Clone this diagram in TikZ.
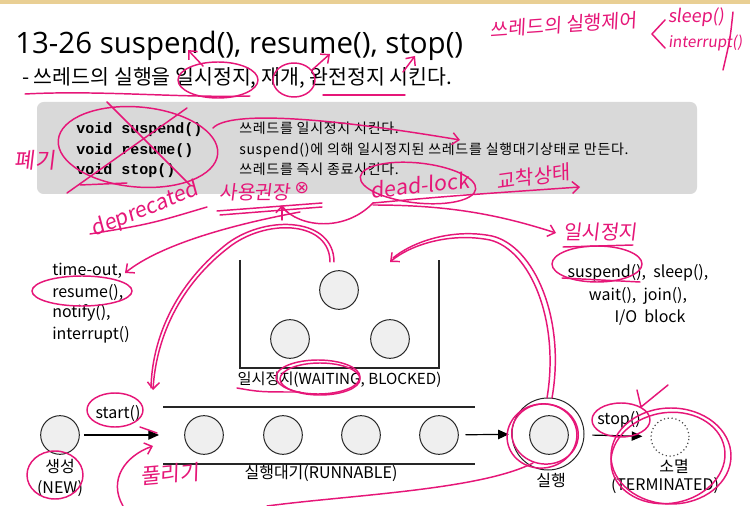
\documentclass[tikz,border=0pt]{standalone}
\usepackage{fontspec}
\usetikzlibrary{arrows.meta}
\newfontfamily\kr{Noto Sans CJK KR}
\newfontfamily\krwide[LetterSpace=5]{Noto Sans CJK KR}
\newfontfamily\hand[FakeSlant=0.12]{Noto Sans CJK KR}
\newfontfamily\ttlf{Open Sans}
\newfontfamily\monof{Liberation Mono}
\newfontfamily\djv{DejaVu Sans}
\definecolor{penc}{RGB}{230,22,120}
\definecolor{topband}{RGB}{233,207,148}
\definecolor{boxgray}{RGB}{217,217,217}
\definecolor{cfill}{RGB}{239,239,239}
\begin{document}
\begin{tikzpicture}[x=0.75pt,y=-0.75pt,
 st/.style={circle,draw=black!85,fill=cfill,line width=0.75pt,minimum size=29pt,inner sep=0pt},
 lbl/.style={font=\kr\fontsize{12}{14}\selectfont,inner sep=0pt},
 code/.style={font=\monof\bfseries\fontsize{11.25}{13}\selectfont,anchor=base west,inner sep=0pt},
 desc/.style={font=\krwide\fontsize{10.5}{12}\selectfont,anchor=base west,inner sep=0pt},
 arr/.style={-{Triangle[length=8pt,width=7pt]},line width=0.9pt},
 ink/.style={draw=penc,line width=1.1pt,line cap=round,line join=round},
 inkarr/.style={ink,-{Straight Barb[length=5pt,width=9pt]}},
 hw/.style={text=penc,font=\hand\fontsize{#1}{#1}\selectfont,inner sep=0pt},
 ]
\useasboundingbox (0,0) rectangle (750,506);
\fill[white] (0,0) rectangle (750,506);
\fill[topband] (0,0) rectangle (750,4);

% ---------- title ----------
\node[anchor=base west,inner sep=0pt,font=\ttlf\fontsize{22.1}{26}\selectfont] (title) at (15,53.5) {13-26 suspend(), resume(), stop()};
\node[anchor=base west,inner sep=0pt,font=\kr\fontsize{15.4}{18}\selectfont] (sub) at (22,85) {- 쓰레드의 실행을 일시정지, 재개, 완전정지 시킨다.};

% ---------- gray box ----------
\fill[boxgray,rounded corners=5pt] (37,102) rectangle (697,194);
\node[code] (c1) at (76,134) {void suspend()};
\node[code] (c2) at (76,155) {void resume()};
\node[code] (c3) at (76,175) {void stop()};
\node[desc] (d1) at (239,134) {쓰레드를 일시정지 시킨다.};
\node[desc] (d2) at (239,155) {suspend()에 의해 일시정지된 쓰레드를 실행대기상태로 만든다.};
\node[desc] (d3) at (239,175) {쓰레드를 즉시 종료시킨다.};

% ---------- left / right labels ----------
\node[lbl,anchor=base west] (l1) at (52,275) {time-out,};
\node[lbl,anchor=base west] (l2) at (52,297) {resume(),};
\node[lbl,anchor=base west] (l3) at (52,317) {notify(),};
\node[lbl,anchor=base west] (l4) at (52,339) {interrupt()};
\node[lbl,anchor=base] (s1) at (638,277) {suspend(),\ \ sleep(),};
\node[lbl,anchor=base] (s2) at (638,300) {wait(),\ \ join(),};
\node[lbl,anchor=base] (s3) at (650,322) {I/O\ \ block};

% ---------- waiting ----------
\draw[line width=0.95pt,black!85] (240,260) -- (240,368) -- (439,368) -- (439,260);
\node[st] (w1) at (339,290) {};
\node[st] (w2) at (290,339) {};
\node[st] (w3) at (390,339) {};
\node[lbl,anchor=base,font=\kr\fontsize{11.4}{14}\selectfont] (wl) at (339.5,384) {일시정지(WAITING, BLOCKED)};

% ---------- runnable ----------
\draw[line width=0.95pt,black!85] (163,407) -- (475,407);
\draw[line width=0.95pt,black!85] (163,464) -- (475,464);
\node[st] (r1) at (204,435) {};
\node[st] (r2) at (283,435) {};
\node[st] (r3) at (361,435) {};
\node[st] (r4) at (439,435) {};
\node[lbl,anchor=base] (rl) at (321,478) {실행대기(RUNNABLE)};

% ---------- new ----------
\node[st] (new) at (60,435) {};
\node[lbl,anchor=base] (nl1) at (60,472) {생성};
\node[lbl,anchor=base] (nl2) at (60,493) {(NEW)};
\node[lbl,anchor=base] (startl) at (118,418) {start()};
\coordinate (rin) at (159,435);
\draw[arr,shorten <=3pt] (new) -- (rin);

% ---------- running ----------
\node[circle,draw=black!85,line width=0.75pt,minimum size=54pt,inner sep=0pt] (runo) at (548,434) {};
\node[st] (run) at (549,435) {};
\node[lbl,anchor=base] (runl) at (551,486) {실행};
\draw[arr,shorten <=5pt,shorten >=2pt] (r4) -- (runo);

% ---------- terminated ----------
\node[circle,draw=black!70,dotted,line width=0.9pt,minimum size=28.5pt,inner sep=0pt] (term) at (670,437) {};
\node[lbl,anchor=base] (tl1) at (674,472) {소멸};
\node[lbl,anchor=base] (tl2) at (665,490) {(TERMINATED)};
\node[lbl,anchor=base] (stopl) at (619,424) {stop()};
\draw[arr,shorten <=6pt,shorten >=6pt] (runo) -- (term);

% =================== red annotations ===================
% title area
\draw[ink] (25,94) .. controls (100,90) and (180,98) .. (250,96);
\draw[ink] (218,80) ellipse [x radius=30pt, y radius=13.5pt];
\draw[inkarr] (203,66) -- (188,50);
\draw[ink] (294,80) ellipse [x radius=15.75pt, y radius=12.75pt];
\draw[inkarr] (312,70) .. controls (320,62) .. (330,54);
\draw[ink] (323,95) -- (405,95);
\draw[inkarr] (403,72) -- (415,56);

% top right note
\node[hw=14.5,anchor=west,rotate=4] (n1) at (490,30) {쓰레드의 실행제어};
\draw[ink] (665,20) -- (652,34) -- (665,48);
\node[hw=13.5,anchor=west] (n2) at (668,17) {sleep()};
\node[hw=11.5,anchor=west] (n3) at (668,43) {interrupt()};
\draw[ink] (733,12) .. controls (730,40) .. (723,70);

% code crossed out
\draw[ink,rotate around={-5:(138,147)}] (138,147) ellipse [x radius=60pt, y radius=30pt];
\draw[ink] (107,102) -- (190,185);
\draw[ink] (187,108) -- (67,193);
\draw[ink] (80,185) -- (127,183);
\node[hw=16.5] (n4) at (35,160) {폐기};
\node[hw=16,rotate=22] (n5) at (145,210) {deprecated};
\draw[ink] (90,234) .. controls (150,224) .. (207,207);

% not recommended
\node[hw=14.5,anchor=west] (n6) at (219,192) {사용권장};
\node[text=penc,font=\djv\fontsize{13}{13}\selectfont,inner sep=0pt] (n7) at (302,188) {⊗};
\draw[ink] (217,211) -- (322,203);
\draw[ink] (220,215) -- (322,207);
\draw[inkarr] (282,220) -- (282,205);
\draw[ink] (282,207) .. controls (300,228) and (345,232) .. (373,203);

% dead-lock
\draw[ink,rotate around={-6:(418,183)}] (418,183) ellipse [x radius=43.5pt, y radius=15pt];
\node[hw=16,rotate=6] (n8) at (420,185) {dead-lock};
\node[hw=15,rotate=8] (n9) at (533,177) {교착상태};
\draw[inkarr] (373,203) .. controls (450,196) .. (580,187);
\draw[inkarr] (373,205) .. controls (450,205) and (500,215) .. (556,233);
\draw[inkarr] (213,128) .. controls (230,110) and (330,118) .. (460,140);

% arrows to the states
\draw[inkarr] (300,212) .. controls (230,225) and (160,245) .. (125,273);
\draw[inkarr] (330,262) .. controls (330,222) and (270,218) .. (232,245) .. controls (178,285) and (156,340) .. (153,390);
\draw[ink] (334,262) .. controls (334,218) and (268,214) .. (228,243) .. controls (174,285) and (152,340) .. (151,388);
\draw[inkarr] (547,398) .. controls (560,320) and (530,250) .. (490,240) .. controls (450,232) and (410,245) .. (390,262);
\draw[ink] (552,398) .. controls (566,318) and (534,246) .. (492,236) .. controls (452,228) and (412,242) .. (393,258);

% suspend side
\node[hw=15] (n10) at (600,232) {일시정지};
\draw[ink] (563,247) -- (633,245);
\draw[ink] (597,264) ellipse [x radius=33.75pt, y radius=13.5pt];
\draw[ink] (562,278) -- (640,282);

% resume, waiting, start, new
\draw[ink] (82,291) ellipse [x radius=37.5pt, y radius=11.25pt];
\draw[ink] (318,377) ellipse [x radius=31.5pt, y radius=12.75pt];
\draw[ink] (320,379) ellipse [x radius=30pt, y radius=12pt];
\draw[ink] (237,388) .. controls (260,392) .. (300,392);
\draw[ink] (115,410) ellipse [x radius=21pt, y radius=12.75pt];
\draw[ink] (55,475) ellipse [x radius=21pt, y radius=18pt];
\draw[inkarr] (123,506) .. controls (108,480) and (125,456) .. (153,446);
\draw[ink] (140,427) -- (157,433);
\node[hw=16,rotate=5] (n11) at (170,474) {풀리기};

% running, stop, terminated
\draw[ink,rotate around={10:(542,436)}] (542,436) ellipse [x radius=26.25pt, y radius=24pt];
\draw[ink,rotate around={-8:(545,434)}] (545,434) ellipse [x radius=25pt, y radius=22.5pt];
\draw[ink] (533,463) .. controls (480,490) and (350,495) .. (267,506);
\draw[ink] (621,420) ellipse [x radius=21.75pt, y radius=12.75pt];
\draw[ink] (637,390) -- (641,407) -- (668,385);
\draw[ink] (671,456) ellipse [x radius=45pt, y radius=36pt];
\draw[ink,rotate around={10:(668,458)}] (668,458) ellipse [x radius=43pt, y radius=34pt];
\end{tikzpicture}
\end{document}
